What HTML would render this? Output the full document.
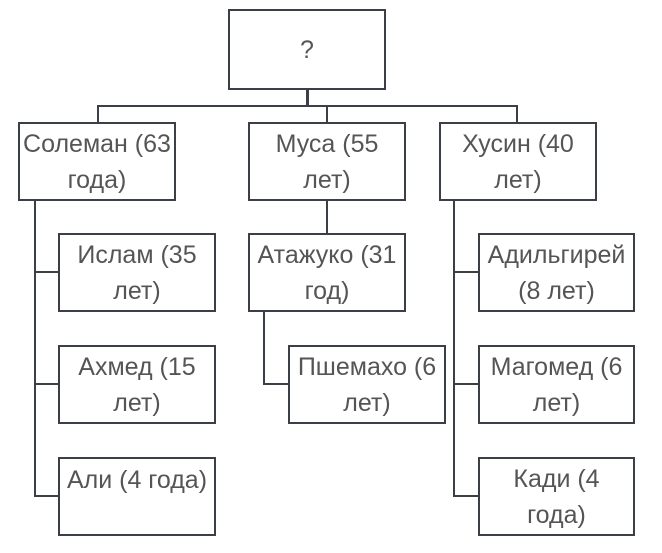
<!DOCTYPE html>
<html><head><meta charset="utf-8"><style>
body{margin:0;background:#fff;width:662px;height:553px;position:relative;overflow:hidden;font-family:"Liberation Sans","DejaVu Sans",sans-serif;}
.b{position:absolute;box-sizing:border-box;border:2px solid #3b4048;background:#fff;display:flex;align-items:center;justify-content:center;text-align:center;color:#555;font-size:25px;line-height:36px;padding:0;white-space:nowrap;}
.l{position:absolute;background:#3b4048;}
</style></head><body>
<div class="l" style="left:306px;top:89px;width:3px;height:18px"></div>
<div class="l" style="left:97px;top:105px;width:421px;height:2px"></div>
<div class="l" style="left:97px;top:105px;width:2px;height:18px"></div>
<div class="l" style="left:326px;top:105px;width:2px;height:18px"></div>
<div class="l" style="left:516px;top:105px;width:2px;height:18px"></div>
<div class="l" style="left:34px;top:199px;width:2px;height:298px"></div>
<div class="l" style="left:34px;top:271px;width:25px;height:2px"></div>
<div class="l" style="left:34px;top:383px;width:25px;height:2px"></div>
<div class="l" style="left:34px;top:495px;width:25px;height:2px"></div>
<div class="l" style="left:326px;top:199px;width:2px;height:35px"></div>
<div class="l" style="left:263px;top:310px;width:2px;height:75px"></div>
<div class="l" style="left:263px;top:383px;width:26px;height:2px"></div>
<div class="l" style="left:453px;top:199px;width:2px;height:298px"></div>
<div class="l" style="left:453px;top:271px;width:25px;height:2px"></div>
<div class="l" style="left:453px;top:383px;width:25px;height:2px"></div>
<div class="l" style="left:453px;top:495px;width:25px;height:2px"></div>
<div class="b" style="left:228px;top:9px;width:158px;height:81px">?</div>
<div class="b" style="left:18px;top:122px;width:158px;height:79px">Солеман (63<br>года)</div>
<div class="b" style="left:248px;top:122px;width:158px;height:79px">Муса (55<br>лет)</div>
<div class="b" style="left:439px;top:122px;width:158px;height:79px">Хусин (40<br>лет)</div>
<div class="b" style="left:58px;top:233px;width:158px;height:79px">Ислам (35<br>лет)</div>
<div class="b" style="left:58px;top:345px;width:158px;height:79px">Ахмед (15<br>лет)</div>
<div class="b" style="left:58px;top:457px;width:158px;height:79px;align-items:flex-start;padding-top:3px">Али (4 года)</div>
<div class="b" style="left:248px;top:233px;width:158px;height:79px">Атажуко (31<br>год)</div>
<div class="b" style="left:288px;top:345px;width:158px;height:79px">Пшемахо (6<br>лет)</div>
<div class="b" style="left:478px;top:233px;width:157px;height:79px">Адильгирей<br>(8 лет)</div>
<div class="b" style="left:478px;top:345px;width:157px;height:79px">Магомед (6<br>лет)</div>
<div class="b" style="left:478px;top:457px;width:157px;height:79px">Кади (4<br>года)</div>
</body></html>
